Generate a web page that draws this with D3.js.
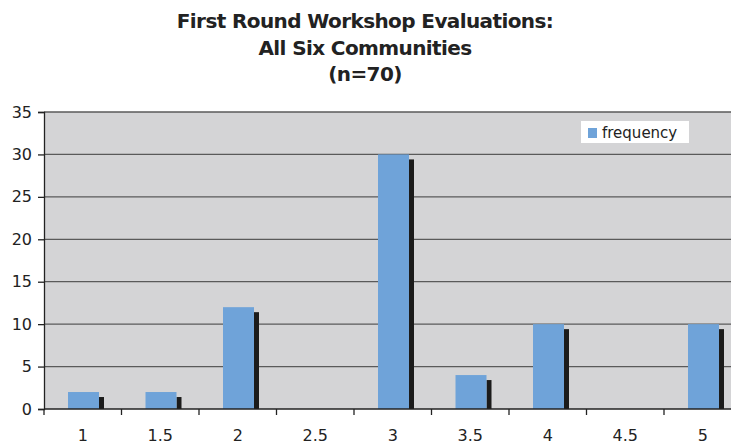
<!DOCTYPE html>
<html>
<head>
<meta charset="utf-8">
<script src="https://cdn.jsdelivr.net/npm/d3@7"></script>
<style>
  body { margin: 0; background: #fff; }
  text { font-family: "DejaVu Sans", Verdana, sans-serif; }
</style>
</head>
<body>
<div id="chart"></div>
<script>
const categories = ["1", "1.5", "2", "2.5", "3", "3.5", "4", "4.5", "5"];
const frequency = [2, 2, 12, 0, 30, 4, 10, 0, 10];
const yTicks = [0, 5, 10, 15, 20, 25, 30, 35];
const titleLines = ["First Round Workshop Evaluations:", "All Six Communities", "(n=70)"];

const width = 731, height = 444;
const plotLeft = 44, plotTop = 112, plotBottom = 409;
const bandW = 77.5;

const svg = d3.select("#chart").append("svg")
    .attr("width", width)
    .attr("height", height);

// x scale runs past the right edge, like the cropped original
const x = d3.scaleBand()
    .domain(categories)
    .range([plotLeft, plotLeft + bandW * categories.length])
    .paddingInner(0)
    .paddingOuter(0);

const y = d3.scaleLinear()
    .domain([0, 35])
    .range([plotBottom, plotTop]);

const barData = frequency.map((v, i) => ({cat: categories[i], v: v})).filter(d => d.v > 0);

// plot background
svg.append("rect")
    .attr("x", plotLeft).attr("y", plotTop)
    .attr("width", width - plotLeft).attr("height", plotBottom - plotTop)
    .attr("fill", "#d4d4d6");

// gridlines
svg.selectAll(".grid")
    .data(yTicks.filter(d => d > 0))
    .enter().append("line")
    .attr("x1", plotLeft).attr("x2", width)
    .attr("y1", d => y(d)).attr("y2", d => y(d))
    .attr("stroke", "#5a5a5a")
    .attr("stroke-width", 1.3);

// shadow bars
svg.selectAll(".shadow")
    .data(barData)
    .enter().append("rect")
    .attr("x", d => x(d.cat) + 55)
    .attr("y", d => y(d.v) + 5)
    .attr("width", 5)
    .attr("height", d => plotBottom - y(d.v) - 5)
    .attr("fill", "#1b1b1b");

// bars
svg.selectAll(".bar")
    .data(barData)
    .enter().append("rect")
    .attr("x", d => x(d.cat) + 24)
    .attr("y", d => y(d.v))
    .attr("width", 31)
    .attr("height", d => plotBottom - y(d.v))
    .attr("fill", "#6fa3d9");

// y axis
const yAxis = svg.append("g")
    .attr("transform", `translate(${plotLeft},0)`)
    .call(d3.axisLeft(y).tickValues(yTicks).tickSize(6).tickPadding(6));
yAxis.select(".domain").attr("stroke", "#222").attr("stroke-width", 1.3);
yAxis.selectAll(".tick line").attr("stroke", "#222").attr("stroke-width", 1.3);
yAxis.selectAll("text").attr("font-size", 16).attr("fill", "#222")
    .attr("font-family", "DejaVu Sans, Verdana, sans-serif");

// x axis
const xTickScale = d3.scaleLinear().domain([0, 9]).range([plotLeft, plotLeft + bandW * 9]);
svg.append("line")
    .attr("x1", plotLeft).attr("x2", width)
    .attr("y1", plotBottom).attr("y2", plotBottom)
    .attr("stroke", "#222").attr("stroke-width", 1.5);
svg.selectAll(".xtick")
    .data(d3.range(0, 9))
    .enter().append("line")
    .attr("x1", d => xTickScale(d)).attr("x2", d => xTickScale(d))
    .attr("y1", plotBottom).attr("y2", plotBottom + 6)
    .attr("stroke", "#222").attr("stroke-width", 1.3);
svg.selectAll(".xlabel")
    .data(categories)
    .enter().append("text")
    .attr("x", d => x(d) + x.bandwidth() / 2)
    .attr("y", 441)
    .attr("text-anchor", "middle")
    .attr("font-size", 16)
    .attr("fill", "#222")
    .text(d => d);

// title
svg.selectAll(".title")
    .data(titleLines)
    .enter().append("text")
    .attr("x", 365)
    .attr("y", (d, i) => 28 + i * 26.5)
    .attr("text-anchor", "middle")
    .attr("font-size", 20)
    .attr("font-weight", "bold")
    .attr("letter-spacing", -0.6)
    .attr("fill", "#222")
    .text(d => d);

// legend
const legend = svg.append("g").attr("transform", "translate(581,121)");
legend.append("rect").attr("width", 108).attr("height", 22).attr("fill", "#fff");
legend.append("rect").attr("x", 7).attr("y", 7).attr("width", 9).attr("height", 10).attr("fill", "#6fa3d9");
legend.append("text").attr("x", 21).attr("y", 17).attr("font-size", 15).attr("fill", "#222").text("frequency");
</script>
</body>
</html>
